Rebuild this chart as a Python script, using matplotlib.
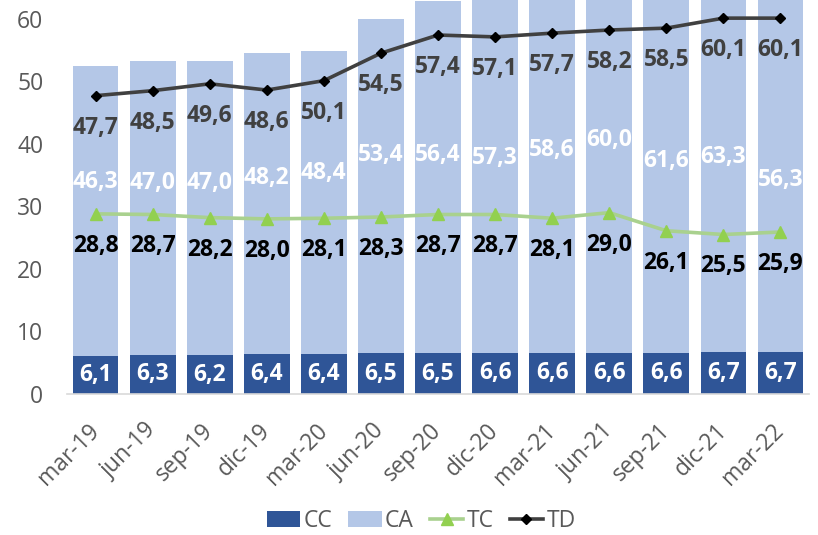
import matplotlib
matplotlib.use("Agg")
import matplotlib.pyplot as plt
import numpy as np

categories = ["mar-19", "jun-19", "sep-19", "dic-19", "mar-20", "jun-20", "sep-20",
              "dic-20", "mar-21", "jun-21", "sep-21", "dic-21", "mar-22"]
cc = [6.1, 6.3, 6.2, 6.4, 6.4, 6.5, 6.5, 6.6, 6.6, 6.6, 6.6, 6.7, 6.7]
ca = [46.3, 47.0, 47.0, 48.2, 48.4, 53.4, 56.4, 57.3, 58.6, 60.0, 61.6, 63.3, 56.3]
tc = [28.8, 28.7, 28.2, 28.0, 28.1, 28.3, 28.7, 28.7, 28.1, 29.0, 26.1, 25.5, 25.9]
td = [47.7, 48.5, 49.6, 48.6, 50.1, 54.5, 57.4, 57.1, 57.7, 58.2, 58.5, 60.1, 60.1]
yticks = [0, 10, 20, 30, 40, 50, 60]

# layout: vertical placement of the CA labels (as in the original chart)
ca_label_y = [33.9, 33.7, 33.7, 34.5, 35.3, 38.2, 38.2, 37.7, 39.0, 40.6, 37.2, 37.9, 34.2]

FONT = "Open Sans"
plt.rcParams["font.family"] = [FONT, "DejaVu Sans"]

C_CC = "#2F5597"
C_CA = "#B4C7E7"
C_TC = "#A9D18E"
C_TCM = "#92D050"
C_TD = "#404040"
GRAY = "#595959"

fig = plt.figure(figsize=(8.18, 5.35), dpi=100)
ax = fig.add_axes([0.082, 0.2636, 0.907, 0.7364])

x = np.arange(len(categories))
h_cc = ax.bar(x, cc, width=0.8, color=C_CC, label="CC", zorder=2)
h_ca = ax.bar(x, ca, width=0.8, bottom=cc, color=C_CA, label="CA", zorder=2)
h_tc, = ax.plot(x, tc, color=C_TC, lw=2.6, marker="^", markersize=8, markerfacecolor=C_TCM,
                markeredgecolor=C_TCM, label="TC", zorder=3)
h_td, = ax.plot(x, td, color=C_TD, lw=2.6, marker="D", markersize=5.5, markerfacecolor="black",
                markeredgecolor="black", label="TD", zorder=3)

fs = 16.5
for i in range(len(x)):
    ax.text(x[i], cc[i] / 2, f"{cc[i]:.1f}".replace(".", ","), ha="center", va="center",
            color="white", fontsize=fs, fontweight="bold", zorder=4)
    ax.text(x[i], ca_label_y[i], f"{ca[i]:.1f}".replace(".", ","), ha="center", va="center",
            color="white", fontsize=fs, fontweight="bold", zorder=4)
    ax.annotate(f"{td[i]:.1f}".replace(".", ","), (x[i], td[i]), xytext=(0, -23),
                textcoords="offset points", ha="center", va="center",
                color=C_TD, fontsize=fs, fontweight="bold", zorder=4)
    ax.annotate(f"{tc[i]:.1f}".replace(".", ","), (x[i], tc[i]), xytext=(0, -23),
                textcoords="offset points", ha="center", va="center",
                color="black", fontsize=fs, fontweight="bold", zorder=4)

ax.set_xlim(-0.5, len(x) - 0.5)
ax.set_ylim(0, 63)
ax.set_yticks(yticks)
ax.set_xticks(x)
ax.set_xticklabels(categories, rotation=45, ha="right", va="center", rotation_mode="anchor")
ax.tick_params(axis="both", length=0, labelsize=16.5, labelcolor=GRAY)
ax.tick_params(axis="y", pad=17)
ax.tick_params(axis="x", pad=24)
for s in ["top", "right", "left"]:
    ax.spines[s].set_visible(False)
ax.spines["bottom"].set_color("#D9D9D9")
ax.spines["bottom"].set_linewidth(1.2)

fig.legend([h_cc, h_ca, h_tc, h_td], ["CC", "CA", "TC", "TD"],
           loc="center", bbox_to_anchor=(0.515, 0.026), ncol=4, frameon=False,
           fontsize=16.5, labelcolor=GRAY, handlelength=1.45, handletextpad=0.15,
           columnspacing=0.7)

fig.savefig("out.png", dpi=100)
